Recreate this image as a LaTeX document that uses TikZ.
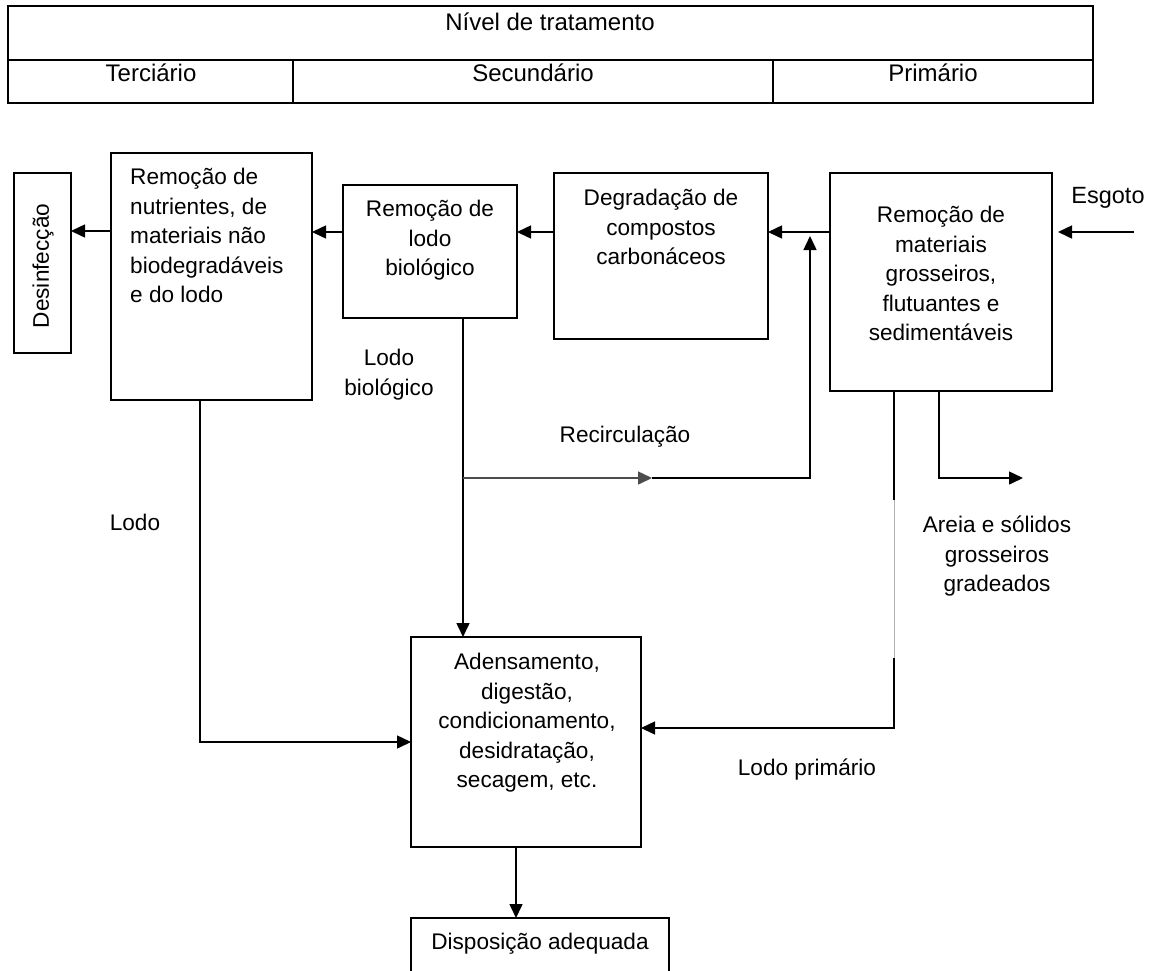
\documentclass[tikz,border=0pt]{standalone}
\usepackage{fontspec}
\setmainfont{Liberation Sans}
\usetikzlibrary{arrows.meta}
\tikzset{
  box/.style={draw, line width=1.9pt, inner sep=0pt, outer sep=0pt, anchor=north west},
  conn/.style={line width=1.5pt, -{Triangle[length=14pt,width=13pt]}},
  wire/.style={line width=1.5pt},
  txt/.style={font=\fontsize{22.6}{29.5}\selectfont, inner sep=0pt, anchor=north, align=center},
  ttxt/.style={font=\fontsize{24}{29}\selectfont, inner sep=0pt, anchor=north, align=center},
  tline/.style={line width=1.9pt}
}
\begin{document}
\begin{tikzpicture}[x=1pt,y=-1pt]
\clip (0,0) rectangle (1157,970);
% table
\node[box, minimum width=1085pt, minimum height=97pt] (tab) at (8,6) {};
\draw[tline] (8,60) -- (1093,60);
\draw[tline] (293,60) -- (293,103);
\draw[tline] (773,60) -- (773,103);
\node[ttxt] (nivel) at (550,13) {Nível de tratamento};
\node[ttxt] (terc) at (151,64) {Terciário};
\node[ttxt] (sec) at (533,64) {Secundário};
\node[ttxt] (prim) at (933,64) {Primário};
% boxes
\node[box, minimum width=57pt, minimum height=180pt] (des) at (14,173) {};
\node[font=\fontsize{22.6}{29.5}\selectfont, inner sep=0pt, rotate=90] (destxt) at (43,266) {Desinfecção};
\node[box, minimum width=201pt, minimum height=247pt] (b1) at (111,153) {};
\node[txt, anchor=north west, align=left] (b1t) at (130,168) {Remoção de\\nutrientes, de\\materiais não\\biodegradáveis\\e do lodo};
\node[box, minimum width=174pt, minimum height=133pt] (b2) at (343,185) {};
\node[txt] (b2t) at (430,200) {Remoção de\\lodo\\biológico};
\node[box, minimum width=214pt, minimum height=166pt] (b3) at (554,173) {};
\node[txt] (b3t) at (661,189) {Degradação de\\compostos\\carbonáceos};
\node[box, minimum width=222pt, minimum height=218pt] (b4) at (830,173) {};
\node[txt] (b4t) at (941,206) {Remoção de\\materiais\\grosseiros,\\flutuantes e\\sedimentáveis};
\node[box, minimum width=230pt, minimum height=210pt] (ad) at (411,637) {};
\node[txt] (adt) at (527,653) {Adensamento,\\digestão,\\condicionamento,\\desidratação,\\secagem, etc.};
\node[box, minimum width=258pt, minimum height=80pt] (disp) at (411,918) {};
\node[txt] (dispt) at (540,933) {Disposição adequada};
% labels
\node[font=\fontsize{23.5}{28}\selectfont, inner sep=0pt, anchor=north] (esgt) at (1108,187) {Esgoto};
\node[txt] (lbio) at (389,349) {Lodo\\biológico};
\node[txt] (lodo) at (135,514) {Lodo};
\node[txt] (recl) at (625,426) {Recirculação};
\node[txt] (areia) at (997,516) {Areia e sólidos\\grosseiros\\gradeados};
\node[txt] (lprim) at (807,759) {Lodo primário};
% main flow
\coordinate (esg) at (1134,232);
\draw[conn, shorten >=6pt] (esg) -- (b4.east |- esg);
\draw[conn] (b4.west |- esg) -- (b3.east |- esg);
\draw[conn] (b3.west |- esg) -- (b2.east |- esg);
\draw[conn] (b2.west |- esg) -- (b1.east |- esg);
\draw[conn] (b1.west |- 0,231) -- (des.east |- 0,231);
% sludge lines
\draw[conn] (b2.south -| 463,0) -- (ad.north -| 463,0);
\coordinate (j1) at (463,478);
\coordinate (rm) at (652,478);
\coordinate (rc) at (810,478);
\coordinate (rtip) at (810,236);
\draw[conn, black!70] (j1) -- (rm);
\draw[conn] (rm) -- (rc) -- (rtip);
\coordinate (l1) at (200,742);
\draw[conn] (b1.south -| l1) -- (l1) -- (ad.west |- l1);
\coordinate (p1) at (894,500);
\coordinate (p2) at (894,658);
\coordinate (p3) at (894,728);
\draw[wire] (b4.south -| p1) -- (p1);
\draw[line width=1pt, black!30] (p1) -- (p2);
\draw[conn] (p2) -- (p3) -- (ad.east |- p3);
\coordinate (a1) at (939,478);
\coordinate (atip) at (1023,478);
\draw[conn] (b4.south -| a1) -- (a1) -- (atip);
\draw[conn] (ad.south -| 516,0) -- (disp.north -| 516,0);
\end{tikzpicture}
\end{document}
